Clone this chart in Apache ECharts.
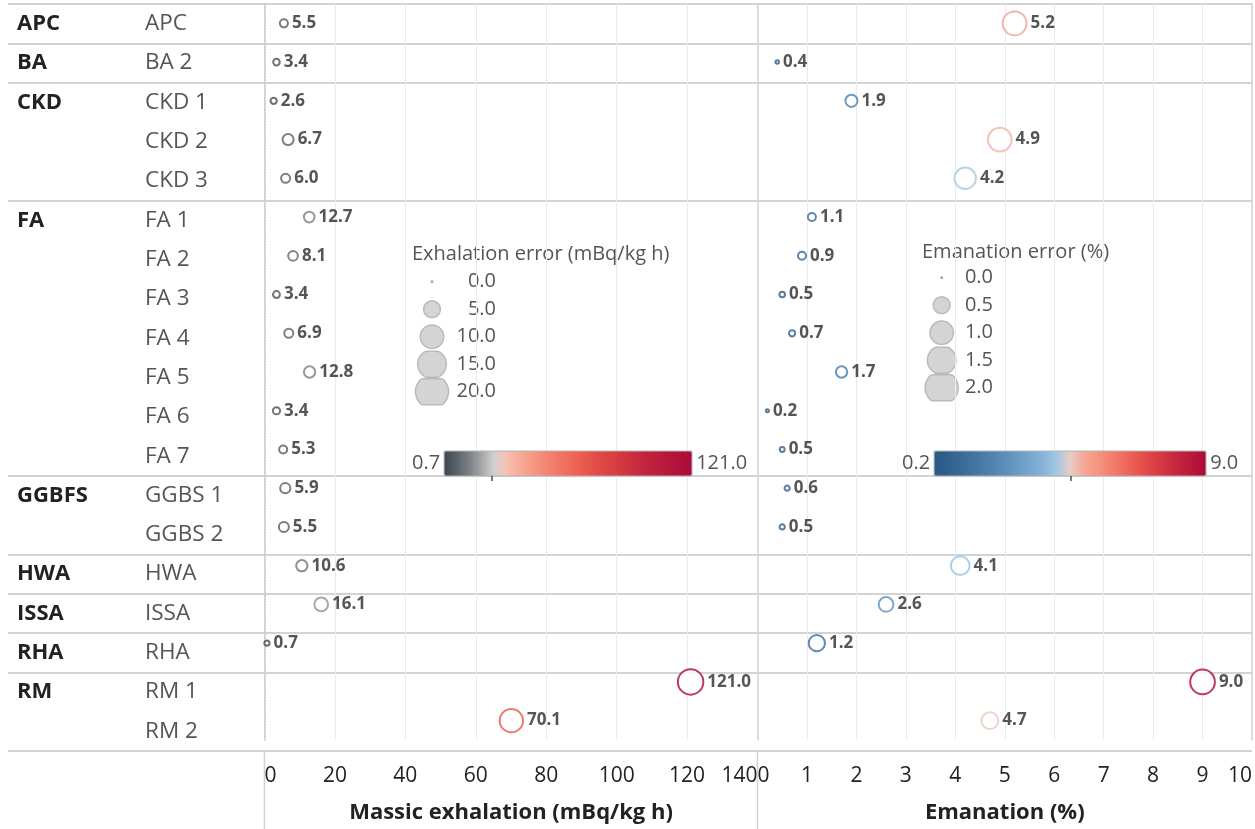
<!DOCTYPE html>
<html><head><meta charset="utf-8">
<script src="https://cdn.jsdelivr.net/npm/echarts@6/dist/echarts.min.js"></script>
<style>html,body{margin:0;padding:0;background:#fff}#c{width:1255px;height:829px}</style>
</head><body><div id="c"></div>
<script>
// ---------- data ----------
const categories = ['APC','BA 2','CKD 1','CKD 2','CKD 3','FA 1','FA 2','FA 3','FA 4','FA 5','FA 6','FA 7','GGBS 1','GGBS 2','HWA','ISSA','RHA','RM 1','RM 2'];
const groups = ['APC','BA','CKD','','','FA','','','','','','','GGBFS','','HWA','ISSA','RHA','RM',''];
const exhalation = [5.5,3.4,2.6,6.7,6.0,12.7,8.1,3.4,6.9,12.8,3.4,5.3,5.9,5.5,10.6,16.1,0.7,121.0,70.1];
const exhalationErr = [1.7,1.2,1.1,3.0,2.1,2.8,2.4,1.3,2.1,3.1,1.4,1.7,2.6,2.5,3.1,4.4,0.8,13.8,11.7];
const emanation = [5.2,0.4,1.9,4.9,4.2,1.1,0.9,0.5,0.7,1.7,0.2,0.5,0.6,0.5,4.1,2.6,1.2,9.0,4.7];
const emanationErr = [1.23,0.04,0.35,1.2,1.0,0.17,0.17,0.09,0.11,0.31,0.03,0.07,0.08,0.08,0.78,0.5,0.6,1.3,0.64];
const exhLegendValues = [0, 5, 10, 15, 20];
const emaLegendValues = [0, 0.5, 1.0, 1.5, 2.0];

// ---------- styling ----------
const FONT = '"Open Sans", "Noto Sans", sans-serif';
const exhColors = ['#3c4550','#5a6169','#7b8085','#a3a5a7','#d0d0d0','#f7c1b2','#f7ad9b','#f69a87','#f48a76','#f27a67','#ef6c5b','#ea5e50','#e45149','#dd4544','#d53b41','#cc313f','#c3273d','#bb1f3c','#b5183b','#b0123a','#ab0a39'];
const emaColors = ['#2a5783','#31608d','#396a97','#4275a2','#4d80ad','#598cb8','#6698c3','#76a6cd','#87b3d8','#a1c7e3','#e6cdc6','#f6a896','#f59582','#f2806e','#ee6b5c','#e7564e','#dd4246','#d03342','#c3243e','#b7173b','#ac0a38'];
const exhDiam = e => Math.sqrt(9 + 54 * e);
const emaDiam = e => Math.sqrt(9 + 540 * e);
const groupStart = groups.map(g => g !== '');

const TOP = 4, H = 747;

function clippedCircle(cx, cy, d, h) {
  const r = d / 2, pts = [];
  for (let k = 0; k < 72; k++) {
    const a = k / 72 * Math.PI * 2;
    let y = r * Math.sin(a);
    y = Math.max(-h, Math.min(h, y));
    pts.push([cx + r * Math.cos(a), cy + y]);
  }
  return pts;
}

const graphics = [];
// panel borders under the plot area
[264.5, 757.5].forEach(x => graphics.push({type:'line', shape:{x1:x, y1:TOP+H, x2:x, y2:829}, style:{stroke:'#d3d3d3', lineWidth:1.5}, silent:true}));

function sizeLegend(title, tx, ty, values, diamFn, cx, cy0, numX) {
  graphics.push({type:'text', x:tx, y:ty, style:{text:title, fill:'#555', font:'20px ' + FONT, textAlign:'left', align:'left', textVerticalAlign:'middle', verticalAlign:'middle'}, silent:true});
  values.forEach((v, i) => {
    const cy = cy0 + i * 27.5;
    const d = diamFn(v);
    graphics.push({type:'polygon', shape:{points: clippedCircle(cx, cy, d, 13)}, style: v === 0 ? {fill:'#aaaaaa'} : {fill:'#d4d4d4', stroke:'#bababa', lineWidth:1.5}, silent:true});
    graphics.push({type:'text', x:numX, y:cy, style:{text:v.toFixed(1), fill:'#555', font:'20px ' + FONT, textAlign:'right', align:'right', textVerticalAlign:'middle', verticalAlign:'middle'}, silent:true});
  });
}
sizeLegend('Exhalation error (mBq/kg h)', 412, 254, exhLegendValues, exhDiam, 432, 281.7, 496);
sizeLegend('Emanation error (%)', 922, 252, emaLegendValues, emaDiam, 941.7, 277.7, 993);
// colour-bar frames and diverging centre ticks
[[444, 248], [934, 272]].forEach(([x, w]) => graphics.push({type:'rect', shape:{x:x, y:451, width:w, height:25}, style:{fill:'none', stroke:'#b5b5b5', lineWidth:1}, silent:true, z:10}));
[492, 1071].forEach(x => graphics.push({type:'line', shape:{x1:x, y1:476, x2:x, y2:481}, style:{stroke:'#222', lineWidth:1.2}, silent:true, z:10}));

const valueLabel = {show:true, position:'right', distance:3, color:'#2b2b2b', fontSize:17, fontWeight:'bold', fontFamily:FONT, formatter: p => p.value[0].toFixed(1)};
const hiddenCat = (grid, extra) => Object.assign({gridIndex:grid, type:'category', data:categories, inverse:true, axisLabel:{show:false}, axisTick:{show:false}, splitLine:{show:false}}, extra);
const tickLabel = {color:'#222', fontSize:21, margin:26, fontFamily:FONT, alignMinLabel:'left', alignMaxLabel:'right'};
const axisTitle = {fontWeight:'bold', fontSize:22, color:'#222', fontFamily:FONT};

const option = {
  animation:false,
  textStyle:{fontFamily:FONT},
  grid:[
    {left:8, width:1244, top:TOP, height:H},
    {left:264.5, width:493, top:TOP, height:H},
    {left:757.5, width:494.5, top:TOP, height:H}
  ],
  xAxis:[
    {gridIndex:0, type:'value', show:false},
    {gridIndex:1, type:'value', min:0, max:140, interval:20,
     axisLine:{show:false}, axisTick:{show:false}, axisLabel:tickLabel,
     splitLine:{show:true, lineStyle:{color:'#ebebeb', width:1}},
     name:'Massic exhalation (mBq/kg h)', nameLocation:'middle', nameGap:62, nameTextStyle:axisTitle},
    {gridIndex:2, type:'value', min:0, max:10, interval:1,
     axisLine:{show:false}, axisTick:{show:false}, axisLabel:tickLabel,
     splitLine:{show:true, lineStyle:{color:'#ebebeb', width:1}},
     name:'Emanation (%)', nameLocation:'middle', nameGap:62, nameTextStyle:axisTitle}
  ],
  yAxis:[
    {gridIndex:0, type:'category', data:categories, inverse:true, position:'left',
     axisLine:{show:false}, axisTick:{show:false},
     axisLabel:{inside:true, interval:0, margin:137, color:'#555', fontSize:22.5, fontFamily:FONT},
     splitLine:{show:true, interval:(i) => groupStart[i], lineStyle:{color:'#d3d3d3', width:2}}},
    {gridIndex:0, type:'category', data:groups, inverse:true, position:'left',
     axisLine:{show:false}, axisTick:{show:false},
     axisLabel:{inside:true, interval:0, margin:9, color:'#222', fontSize:22, fontWeight:'bold', fontFamily:FONT},
     splitLine:{show:false}},
    hiddenCat(1, {position:'left', axisLine:{show:true, lineStyle:{color:'#c4c4c4', type:'dotted', width:1.5}}}),
    hiddenCat(2, {position:'left', axisLine:{show:true, lineStyle:{color:'#d3d3d3', width:1.5}}}),
    hiddenCat(2, {position:'right', axisLine:{show:true, lineStyle:{color:'#d3d3d3', width:1.5}}})
  ],
  visualMap:[
    {type:'continuous', seriesIndex:0, dimension:0, min:0.7, max:121.0, orient:'horizontal',
     itemWidth:25, itemHeight:248, left:397, top:436, text:['121.0','0.7'], textGap:4,
     textStyle:{color:'#555', fontSize:20, fontFamily:FONT}, inRange:{color:exhColors},
     calculable:false, hoverLink:false},
    {type:'continuous', seriesIndex:1, dimension:0, min:0.2, max:9.0, orient:'horizontal',
     itemWidth:25, itemHeight:272, left:887, top:436, text:['9.0','0.2'], textGap:4,
     textStyle:{color:'#555', fontSize:20, fontFamily:FONT}, inRange:{color:emaColors},
     calculable:false, hoverLink:false}
  ],
  series:[
    {type:'scatter', xAxisIndex:1, yAxisIndex:2, symbol:'emptyCircle',
     data: exhalation.map((v, i) => [v, i, exhalationErr[i]]),
     symbolSize: v => exhDiam(v[2]) - 2, label:valueLabel, z:5},
    {type:'scatter', xAxisIndex:2, yAxisIndex:3, symbol:'emptyCircle',
     data: emanation.map((v, i) => [v, i, emanationErr[i]]),
     symbolSize: v => emaDiam(v[2]) - 2, label:valueLabel, z:5}
  ],
  graphic: graphics
};
const chart = echarts.init(document.getElementById('c'));
chart.setOption(option);
</script></body></html>
